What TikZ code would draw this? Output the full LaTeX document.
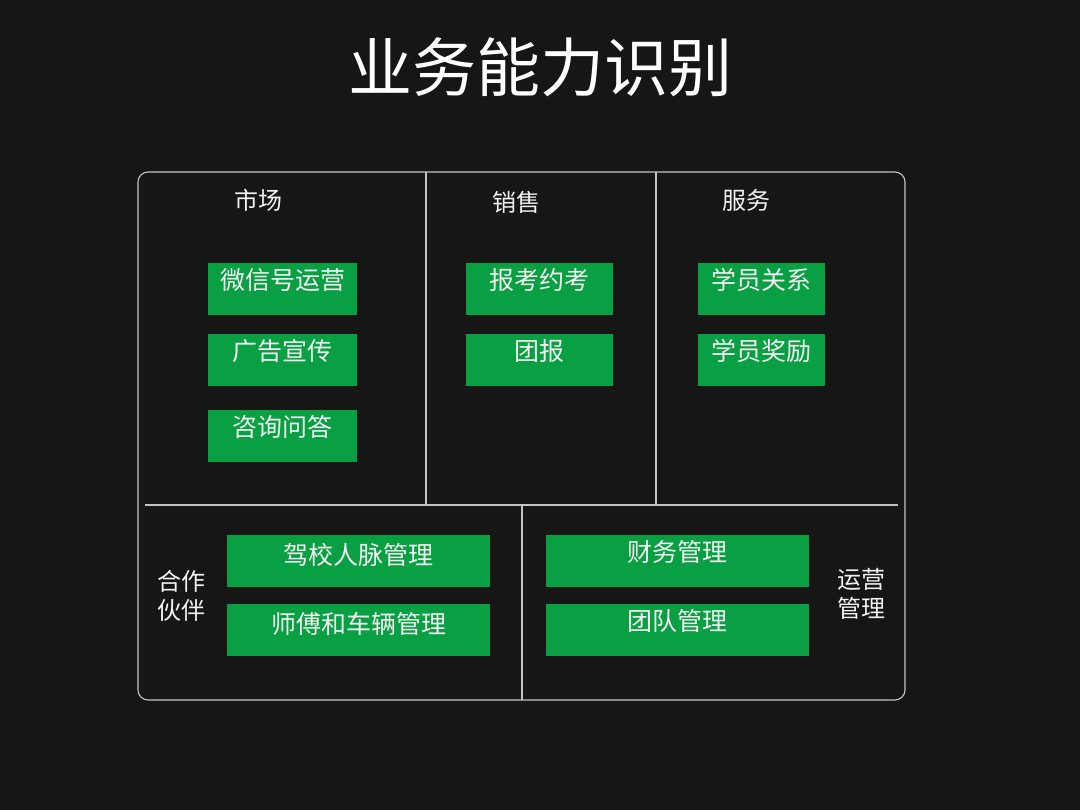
\documentclass[tikz,border=0pt]{standalone}
\usepackage{fontspec}
\setmainfont{Noto Sans CJK SC}
\newfontfamily\cjk{Noto Sans CJK SC}
\definecolor{bg}{HTML}{161616}
\definecolor{gfill}{HTML}{09A043}
\definecolor{frame}{HTML}{C4C4C4}
\definecolor{txtw}{HTML}{F2F2F2}
\begin{document}
\begin{tikzpicture}[x=1pt,y=-1pt,
  gbox/.style={draw=none,fill=gfill,inner sep=0pt,anchor=north west},
  btxt/.style={text=txtw,font=\cjk\fontsize{25}{28}\selectfont,inner sep=0pt},
  head/.style={text=txtw,font=\cjk\fontsize{24}{26}\selectfont,inner sep=0pt},
  side/.style={text=txtw,font=\cjk\fontsize{24}{28.5}\selectfont,inner sep=0pt,align=center},
  fline/.style={draw=frame,line width=1.1pt}]
\fill[bg] (0,0) rectangle (1080,810);
\useasboundingbox (0,0) rectangle (1080,810);
% title
\node[text=white,font=\cjk\fontsize{64}{68}\selectfont,inner sep=0pt] (title) at (540,67) {业务能力识别};
% frame
\draw[fline,rounded corners=10pt] (138,172) rectangle (905,700);
\coordinate (v1t) at (426,172); \coordinate (v1b) at (426,505);
\coordinate (v2t) at (656,172); \coordinate (v2b) at (656,505);
\coordinate (hl) at (145,505); \coordinate (hr) at (898,505);
\coordinate (v3t) at (522,505); \coordinate (v3b) at (522,700);
\draw[fline] (v1t) -- (v1b);
\draw[fline] (v2t) -- (v2b);
\draw[fline] (hl) -- (hr);
\draw[fline] (v3t) -- (v3b);
% headers
\node[head] (h1) at (258,200) {市场};
\node[head] (h2) at (516,202) {销售};
\node[head] (h3) at (746,200) {服务};
% left column boxes
\node[gbox,minimum width=149pt,minimum height=52pt] (a1) at (208,263) {};
\node[btxt] (a1t) at ([yshift=9pt]a1.center) {微信号运营};
\node[gbox,minimum width=149pt,minimum height=52pt] (a2) at (208,334) {};
\node[btxt] (a2t) at ([yshift=9pt]a2.center) {广告宣传};
\node[gbox,minimum width=149pt,minimum height=52pt] (a3) at (208,410) {};
\node[btxt] (a3t) at ([yshift=9pt]a3.center) {咨询问答};
% middle column
\node[gbox,minimum width=147pt,minimum height=52pt] (b1) at (466,263) {};
\node[btxt] (b1t) at ([yshift=9pt]b1.center) {报考约考};
\node[gbox,minimum width=147pt,minimum height=52pt] (b2) at (466,334) {};
\node[btxt] (b2t) at ([yshift=9pt]b2.center) {团报};
% right column
\node[gbox,minimum width=127pt,minimum height=52pt] (c1) at (698,263) {};
\node[btxt] (c1t) at ([yshift=9pt]c1.center) {学员关系};
\node[gbox,minimum width=127pt,minimum height=52pt] (c2) at (698,334) {};
\node[btxt] (c2t) at ([yshift=9pt]c2.center) {学员奖励};
% bottom left
\node[gbox,minimum width=263pt,minimum height=52pt] (d1) at (227,535) {};
\node[btxt] (d1t) at ([yshift=6pt]d1.center) {驾校人脉管理};
\node[gbox,minimum width=263pt,minimum height=52pt] (d2) at (227,604) {};
\node[btxt] (d2t) at ([yshift=6pt]d2.center) {师傅和车辆管理};
% bottom right
\node[gbox,minimum width=263pt,minimum height=52pt] (e1) at (546,535) {};
\node[btxt] (e1t) at ([yshift=9pt]e1.center) {财务管理};
\node[gbox,minimum width=263pt,minimum height=52pt] (e2) at (546,604) {};
\node[btxt] (e2t) at ([yshift=9pt]e2.center) {团队管理};
% side labels
\node[side] (s1) at (181,596) {合作\\伙伴};
\node[side] (s2) at (861,594) {运营\\管理};
\end{tikzpicture}
\end{document}
